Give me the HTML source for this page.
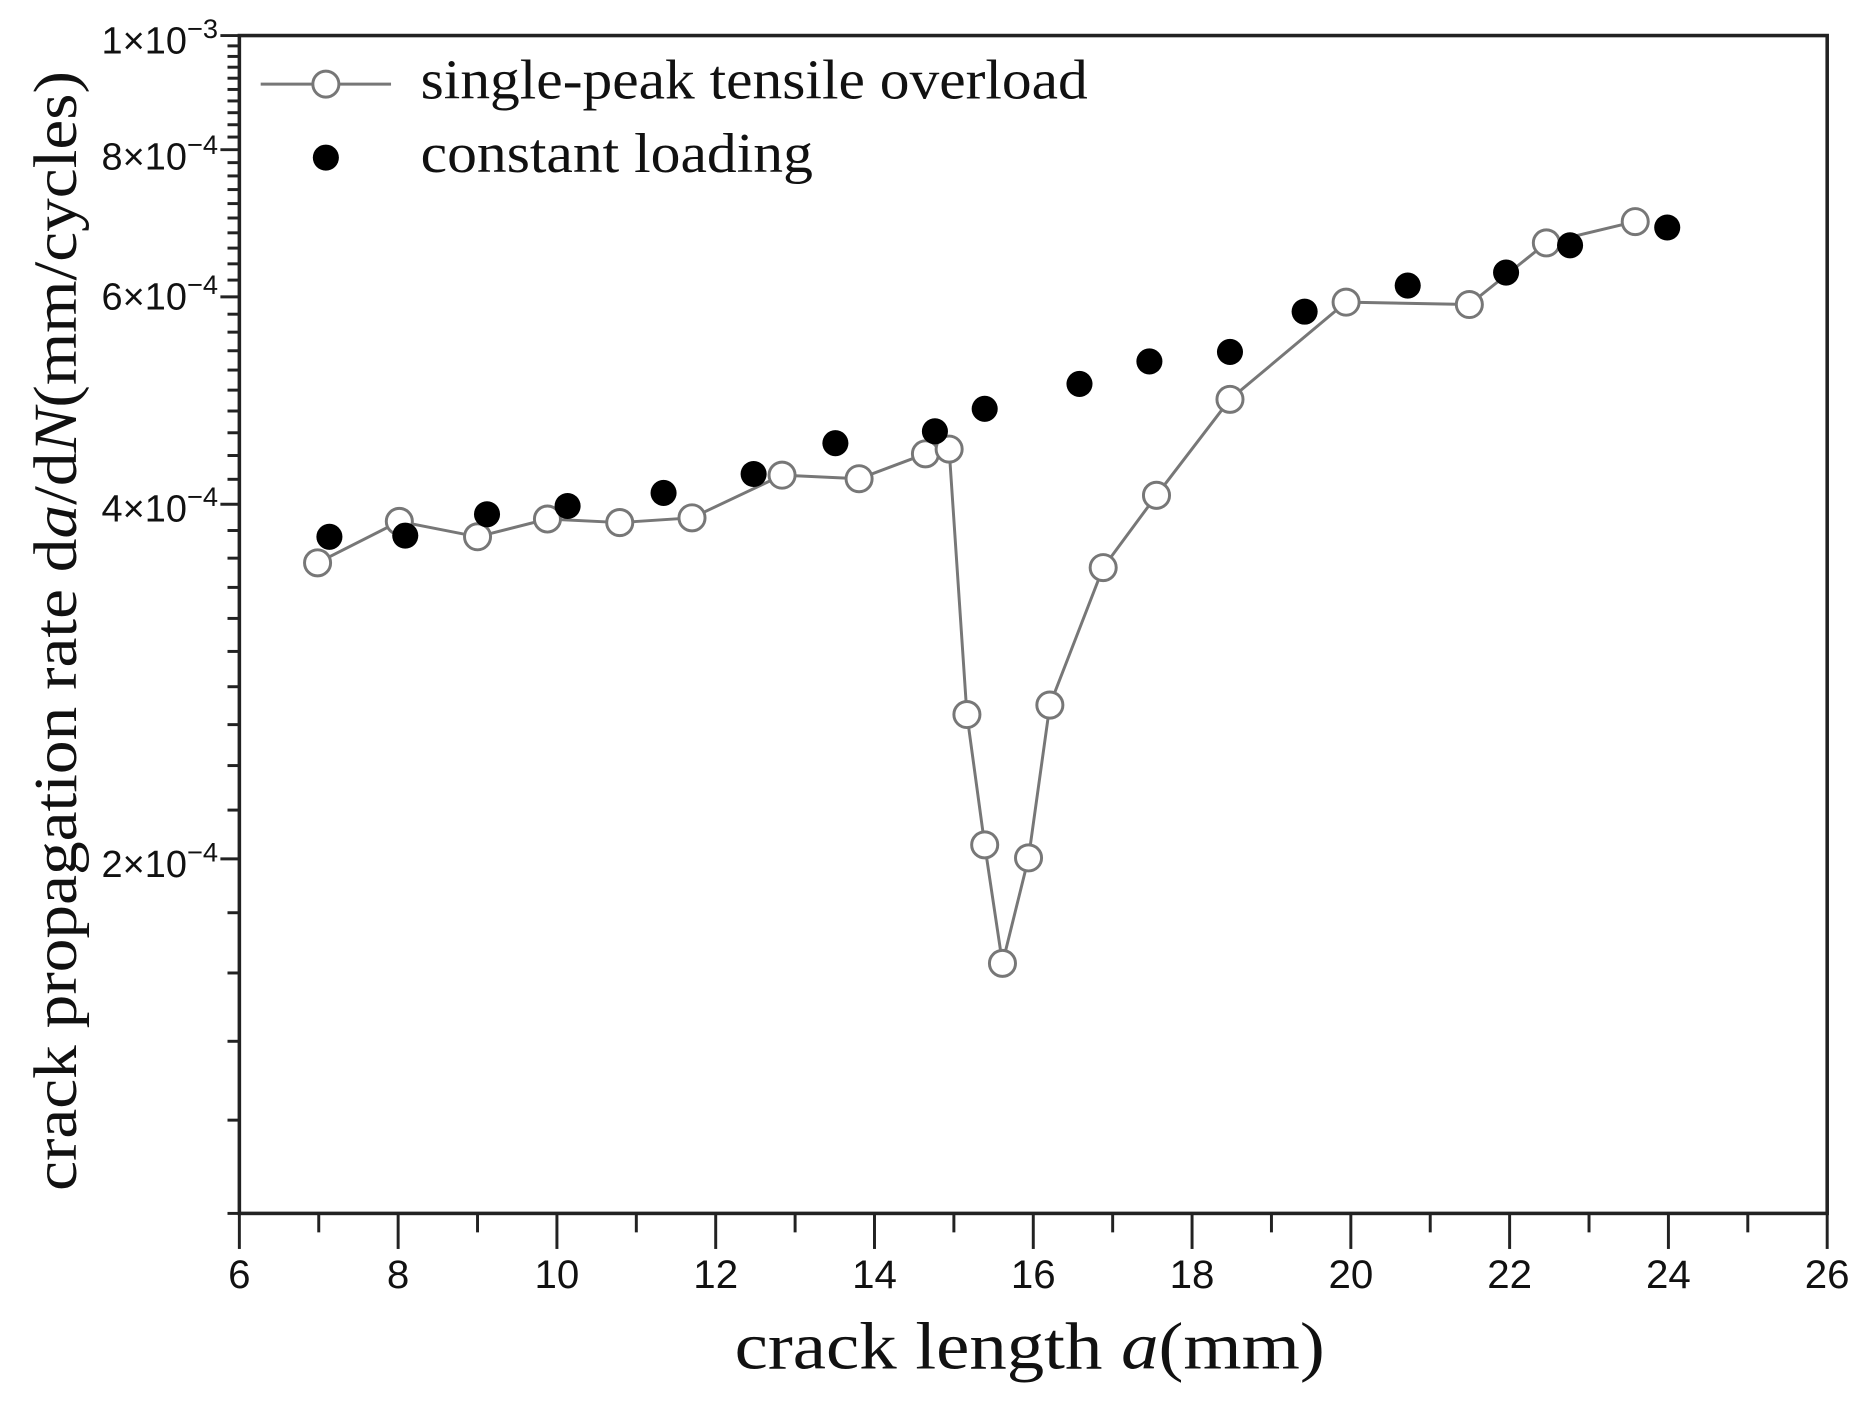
<!DOCTYPE html>
<html><head><meta charset="utf-8"><style>
html,body{margin:0;padding:0;background:#fff;}
svg{display:block;}
</style></head><body>
<svg id="s" width="1858" height="1403" viewBox="0 0 1568 1184" preserveAspectRatio="none" xmlns="http://www.w3.org/2000/svg">
<rect width="1568" height="1184" fill="#fff"/>
<g id="ticks" stroke="#222" stroke-width="2.5"></g>
<rect x="202" y="30" width="1340" height="994" fill="none" stroke="#222" stroke-width="3"/>
<g font-family="Liberation Sans, sans-serif" font-size="32" fill="#111" text-anchor="end">
<text x="184" y="45">1×10<tspan dy="-13" font-size="23">−3</tspan></text>
<text x="184" y="143">8×10<tspan dy="-13" font-size="23">−4</tspan></text>
<text x="184" y="261">6×10<tspan dy="-13" font-size="23">−4</tspan></text>
<text x="184" y="440">4×10<tspan dy="-13" font-size="23">−4</tspan></text>
<text x="184" y="740">2×10<tspan dy="-13" font-size="23">−4</tspan></text>
</g>
<g font-family="Liberation Sans, sans-serif" font-size="34" fill="#111" text-anchor="middle" id="xl"></g>
<g id="data"></g>
<g font-family="Liberation Serif, serif" font-size="47" fill="#111">
<line x1="220" y1="71" x2="330" y2="71" stroke="#777" stroke-width="2.5"/>
<circle cx="275" cy="71" r="11" fill="#fff" stroke="#777" stroke-width="2.5"/>
<text x="355" y="83" textLength="563" lengthAdjust="spacingAndGlyphs">single-peak tensile overload</text>
<circle cx="275" cy="133" r="11" fill="#000"/>
<text x="355" y="145" textLength="331" lengthAdjust="spacingAndGlyphs">constant loading</text>
</g>
<text font-family="Liberation Serif, serif" font-size="56" fill="#111" x="620" y="1155" textLength="498" lengthAdjust="spacingAndGlyphs">crack length <tspan font-style="italic">a</tspan>(mm)</text>
<text font-family="Liberation Serif, serif" font-size="52" fill="#111" transform="translate(64,1005) rotate(-90)" textLength="945" lengthAdjust="spacingAndGlyphs">crack propagation rate  d<tspan font-style="italic">a</tspan>/d<tspan font-style="italic">N</tspan>(mm/cycles)</text>
</svg>
<script>
var NS="http://www.w3.org/2000/svg";
function el(p,n,a,t){var e=document.createElementNS(NS,n);for(var k in a)e.setAttribute(k,a[k]);if(t)e.textContent=t;p.appendChild(e);return e;}
var tk=document.getElementById('ticks');
function Y(v){return 30+Math.log10(1e-3/v)*994;}
for(var v=1.0;v<=10.001;v+=0.2){var y=Y(v*1e-4);var major=[2,4,6,8,10].some(function(m){return Math.abs(m-v)<0.01;});
el(tk,'line',{x1:major?186:192,y1:y,x2:202,y2:y});}
var xl=document.getElementById('xl');
for(var x=6;x<=26;x++){var px=202+(x-6)*67;var major=x%2==0;
el(tk,'line',{x1:px,y1:1024,x2:px,y2:major?1054:1040});
if(major)el(xl,'text',{x:px,y:1087},String(x));}
var open=[[268,475],[337,440],[403,453],[462,438],[523,441],[584,437],[660,401],[725,404],[781,383],[801,379],[816,603],[831,713],[846,813],[868,724],[886,595],[931,479],[976,418],[1038,337],[1136,255],[1240,257],[1305,205],[1380,187]];
var fill=[[278,453],[342,452],[411,434],[479,427],[560,416],[636,400],[705,374],[789,364],[831,345],[911,324],[970,305],[1038,297],[1101,263],[1188,241],[1271,230],[1325,207],[1407,192]];
var d=document.getElementById('data');
el(d,'polyline',{points:open.map(function(p){return p.join(',')}).join(' '),fill:'none',stroke:'#777','stroke-width':2.5});
open.forEach(function(p){el(d,'circle',{cx:p[0],cy:p[1],r:11,fill:'#fff',stroke:'#777','stroke-width':2.5});});
fill.forEach(function(p){el(d,'circle',{cx:p[0],cy:p[1],r:11,fill:'#000'});});
</script>
</body></html>
